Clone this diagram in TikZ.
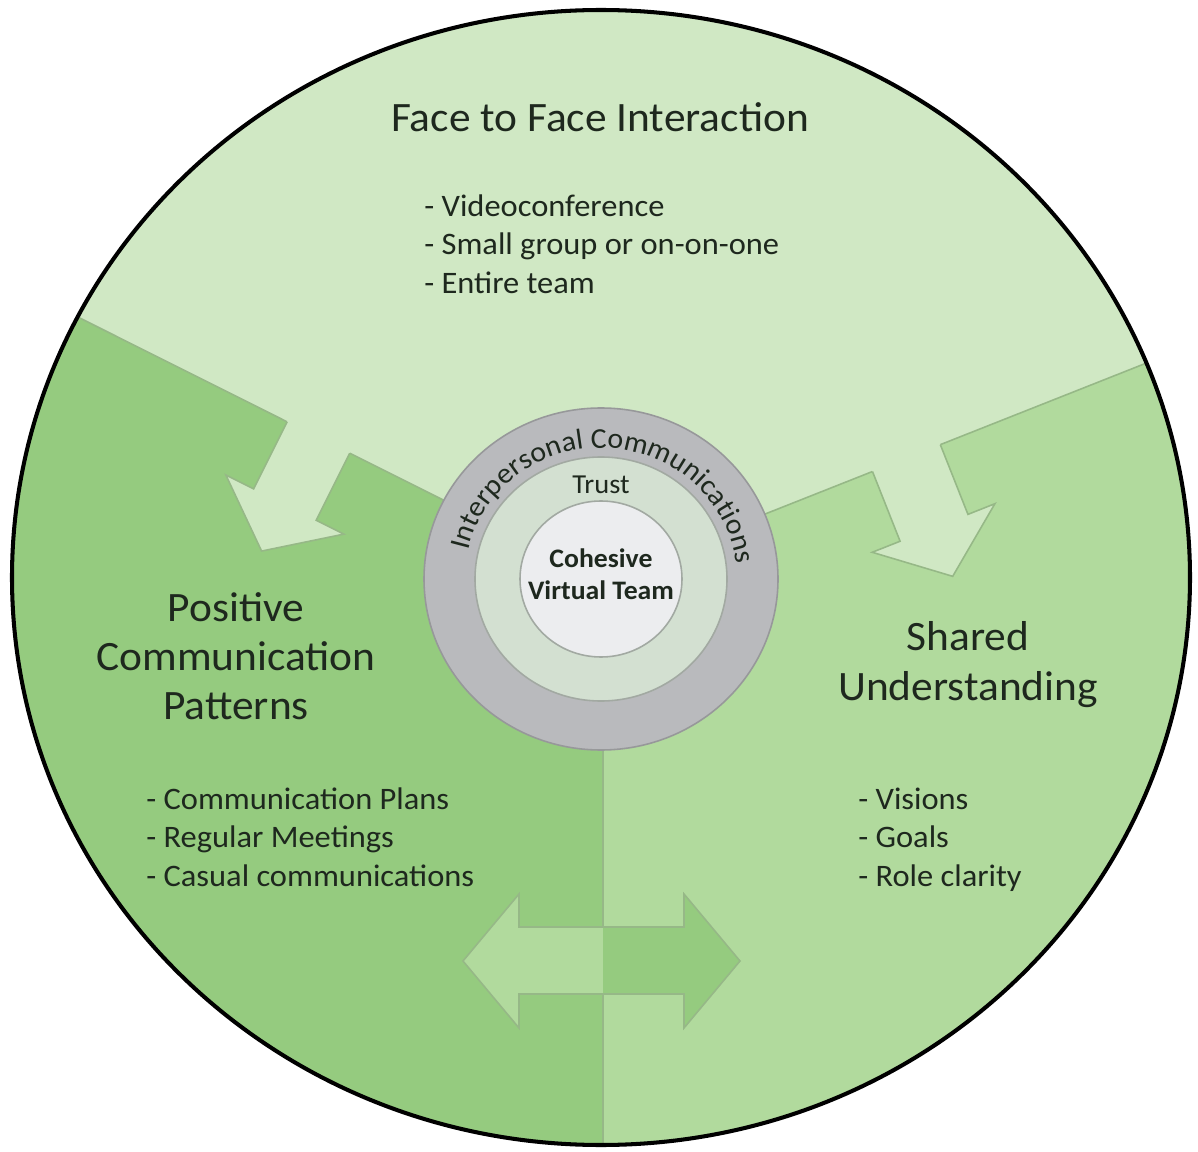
\documentclass[tikz,border=0pt]{standalone}
\usepackage{fontspec}
\setmainfont{Carlito}[FakeStretch=1.038]
\usetikzlibrary{calc,decorations.text}
\definecolor{topgreen}{HTML}{D0E8C4}
\definecolor{leftgreen}{HTML}{95CB7F}
\definecolor{rightgreen}{HTML}{B1DA9D}
\definecolor{seam}{HTML}{96B887}
\definecolor{ringgray}{HTML}{B9BABD}
\definecolor{ringedge}{HTML}{97989A}
\definecolor{trustfill}{HTML}{D3E0D1}
\definecolor{trustedge}{HTML}{A2A9A2}
\definecolor{corefill}{HTML}{ECEDEF}
\definecolor{ink}{HTML}{1E281E}
\begin{document}
\begin{tikzpicture}[x=0.02cm,y=0.02cm,
  heading/.style={font=\fontsize{23.8}{28}\selectfont, text=ink, align=center, inner sep=0, text depth=0pt},
  bullets/.style={font=\fontsize{17.8}{21.9}\selectfont, text=ink, align=left, inner sep=0, text depth=0pt, anchor=west},
  seamline/.style={draw=seam, line width=0.9pt},
  arrowedge/.style={draw=seam, line width=0.9pt, line join=miter},
]
\useasboundingbox (0,0) rectangle (1198,-1152);
\coordinate (c) at (601,-579);

% three sectors of the disc
\fill[rightgreen] (601,-577.5) ellipse [x radius=589, y radius=567.5];
\begin{scope}
  \clip (601,-577.5) ellipse [x radius=589, y radius=567.5];
  \fill[leftgreen] (603,-579) -- ($(c)+(153.4:800)$) -- (-150,-1250) -- (603,-1250) -- cycle;
  \fill[topgreen] (c) -- ($(c)+(153.4:800)$) -- (-150,80) -- (1350,80) -- ($(c)+(21.6:800)$) -- cycle;
  \draw[seamline] (c) -- ($(c)+(153.4:800)$);
  \draw[seamline] (c) -- ($(c)+(21.6:800)$);
  \draw[seamline] (603,-579) -- (603,-1250);
\end{scope}

% arrow from the top sector into the left sector
\begin{scope}[shift={(c)}, rotate=153.4]
  \fill[topgreen] (281,-3) -- (281,75) -- (250,75) -- (316,127) -- (382,75) -- (351,75) -- (351,-3) -- cycle;
  \draw[arrowedge] (281,0) -- (281,75) -- (250,75) -- (316,127) -- (382,75) -- (351,75) -- (351,0);
\end{scope}

% arrow from the top sector into the right sector
\begin{scope}[shift={(c)}, rotate=21.6]
  \fill[topgreen] (292,3) -- (292,-75) -- (262,-75) -- (328,-127) -- (394,-75) -- (365,-75) -- (365,3) -- cycle;
  \draw[arrowedge] (292,0) -- (292,-75) -- (262,-75) -- (328,-127) -- (394,-75) -- (365,-75) -- (365,0);
\end{scope}

% two-headed arrow across the lower seam, colours swapped
\begin{scope}
  \clip (0,-800) rectangle (603,-1100);
  \fill[rightgreen] (463,-961) -- (519,-894) -- (519,-927) -- (684,-927) -- (684,-894) -- (740,-961) -- (684,-1028) -- (684,-994) -- (519,-994) -- (519,-1028) -- cycle;
\end{scope}
\begin{scope}
  \clip (603,-800) rectangle (1198,-1100);
  \fill[leftgreen] (463,-961) -- (519,-894) -- (519,-927) -- (684,-927) -- (684,-894) -- (740,-961) -- (684,-1028) -- (684,-994) -- (519,-994) -- (519,-1028) -- cycle;
\end{scope}
\draw[arrowedge] (463,-961) -- (519,-894) -- (519,-927) -- (684,-927) -- (684,-894) -- (740,-961) -- (684,-1028) -- (684,-994) -- (519,-994) -- (519,-1028) -- cycle;

% outer rim
\draw[line width=2.3pt, black] (601,-577.5) ellipse [x radius=589, y radius=567.5];

% concentric rings in the centre
\draw[draw=ringedge, fill=ringgray, line width=0.9pt] (c) ellipse [x radius=177, y radius=171];
\draw[draw=trustedge, fill=trustfill, line width=0.9pt] (c) ellipse [x radius=126, y radius=122];
\draw[draw=trustedge, fill=corefill, line width=0.9pt] (c) ellipse [x radius=81, y radius=78];

\path[decorate, decoration={text along path, text align=center,
    text={|\color{ink}\fontsize{16.4}{16.4}\selectfont|Interpersonal Communications}}]
  ($(c)+(174:136 and 131)$) arc [start angle=174, end angle=0, x radius=136, y radius=131];

\node[font=\fontsize{15.6}{15.6}\selectfont, text=ink, inner sep=0] (trust) at (601,-485) {Trust};
\node[font=\bfseries\fontsize{15.2}{18.1}\selectfont, text=ink, align=center, inner sep=0, text depth=0pt] (core) at (601,-574) {Cohesive\\Virtual Team};

% sector texts
\node[heading] (title) at (600,-117) {Face to Face Interaction};
\node[bullets] (toplist) at (424,-244) {- Videoconference\\- Small group or on-on-one\\- Entire team};
\node[heading] (lefthead) at (236,-656) {Positive\\Communication\\Patterns};
\node[bullets] (leftlist) at (146,-837) {- Communication Plans\\- Regular Meetings\\- Casual communications};
\node[heading] (righthead) at (968,-661) {Shared\\Understanding};
\node[bullets] (rightlist) at (858,-837) {- Visions\\- Goals\\- Role clarity};
\end{tikzpicture}
\end{document}
